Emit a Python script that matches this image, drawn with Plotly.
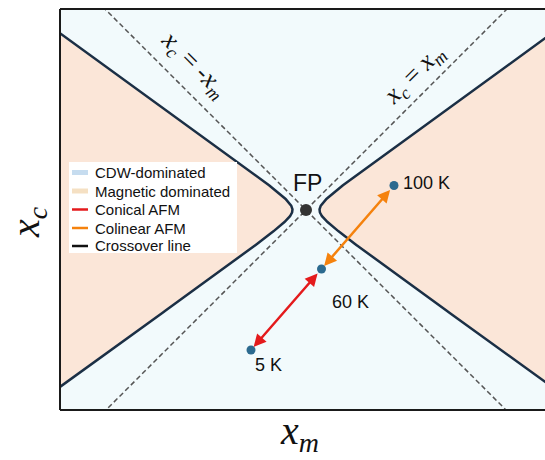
import numpy as np
import plotly.graph_objects as go

# Temperature points along the measured path in the (x_m, x_c) plane
point_labels = ["5 K", "60 K", "100 K"]
point_xm = [-0.55, 0.155, 0.88]
point_xc = [-1.40, -0.59, 0.245]

# Fixed point
fp_label = "FP"
fp_xm = [0.0]
fp_xc = [0.0]

# Crossover curve: x_c = ±slope * sqrt(x_m^2 - gap^2)
crossover_gap = 0.135
crossover_slope = 0.72

# Legend entries
legend_labels = ["CDW-dominated", "Magnetic dominated", "Conical AFM",
                 "Colinear AFM", "Crossover line"]
legend_colors = ["#c6dcef", "#f5e0c3", "#e41a1c", "#f5820d", "#111111"]
legend_widths = [5, 5, 2.5, 2.5, 2.5]

X_RANGE = [-2.46, 2.39]
Y_RANGE = [-2.0, 2.01]

W, H = 545, 460
ML, MR, MT, MB = 60, 0, 9, 50
PW, PH = W - ML - MR, H - MT - MB

CDW_BG = "#f2fafc"
MAG_FILL = "#fbe6d8"
CROSS_COLOR = "#1b2f45"
DASH_COLOR = "#555555"
DOT_COLOR = "#2c6a8f"


def paper(px, py):
    """Pixel position on the page -> paper coordinates of the plot area."""
    return (px - ML) / PW, (H - MB - py) / PH


fig = go.Figure()

# Crossover hyperbola, sampled parametrically so the vertex is smooth
t_max = np.arccosh(2.6 / crossover_gap)
t = np.linspace(0, t_max, 400)
branch_x = crossover_gap * np.cosh(t)
branch_y = crossover_slope * crossover_gap * np.sinh(t)

for side in (1, -1):
    xs = np.concatenate([side * branch_x[::-1], side * branch_x])
    ys = np.concatenate([branch_y[::-1], -branch_y])
    # magnetic-dominated region outside the crossover line
    fig.add_trace(go.Scatter(x=xs, y=ys, fill="toself", fillcolor=MAG_FILL,
                             mode="none", hoverinfo="skip", showlegend=False))
    fig.add_trace(go.Scatter(x=xs, y=ys, mode="lines",
                             line=dict(color=CROSS_COLOR, width=2.5),
                             hoverinfo="skip", showlegend=False))

# Diagonals x_c = ±x_m
diag = np.array([-2.6, 2.6])
for sgn in (1, -1):
    fig.add_trace(go.Scatter(x=diag, y=sgn * diag, mode="lines",
                             line=dict(color=DASH_COLOR, width=1.5, dash="5px,3px"),
                             hoverinfo="skip", showlegend=False))

# Fixed point and temperature points
fig.add_trace(go.Scatter(x=fp_xm, y=fp_xc, mode="markers",
                         marker=dict(color="#333333", size=12),
                         showlegend=False))
fig.add_trace(go.Scatter(x=point_xm, y=point_xc, mode="markers",
                         marker=dict(color=DOT_COLOR, size=9),
                         showlegend=False))

# Double-headed arrows between successive temperature points
arrow_colors = ["#e41a1c", "#f5820d"]
for i, col in enumerate(arrow_colors):
    fig.add_annotation(x=point_xm[i], y=point_xc[i],
                       ax=point_xm[i + 1], ay=point_xc[i + 1],
                       xref="x", yref="y", axref="x", ayref="y",
                       text="", showarrow=True, arrowside="end+start",
                       arrowhead=2, startarrowhead=2,
                       arrowsize=1, startarrowsize=1,
                       arrowwidth=2.5, arrowcolor=col,
                       standoff=4, startstandoff=4)

# Point labels
label_font = dict(family="Liberation Sans, Arial, sans-serif", size=18, color="#111")
offsets = [(17, -15, "center"), (29, -33, "center"), (7, 3, "left")]
for lab, xm, xc, (dx, dy, anchor) in zip(point_labels, point_xm, point_xc, offsets):
    fig.add_annotation(x=xm, y=xc, text=lab, showarrow=False, font=label_font,
                       xanchor=anchor, yanchor="middle", xshift=dx, yshift=dy)
fig.add_annotation(x=fp_xm[0], y=fp_xc[0], text=fp_label, showarrow=False,
                   font=dict(family="Liberation Sans, Arial, sans-serif", size=23, color="#111"),
                   xanchor="center", yanchor="middle", xshift=1, yshift=27)

# Labels along the diagonals
math_font = dict(family="Liberation Serif, Times New Roman, serif", size=26, color="#111")
lx, ly = paper(194, 65)
fig.add_annotation(x=lx, y=ly, xref="paper", yref="paper", showarrow=False,
                   xanchor="center", yanchor="middle",
                   text="<i>x</i><sub><i>c</i></sub> = -<i>x</i><sub><i>m</i></sub>",
                   textangle=45, font=math_font)
rx, ry = paper(414, 75)
fig.add_annotation(x=rx, y=ry, xref="paper", yref="paper", showarrow=False,
                   xanchor="center", yanchor="middle",
                   text="<i>x</i><sub><i>c</i></sub> = <i>x</i><sub><i>m</i></sub>",
                   textangle=-45, font=math_font)

# Axis titles
title_font = dict(family="Liberation Serif, Times New Roman, serif", size=40, color="#111")
tx, ty = paper(299, 433)
fig.add_annotation(x=tx, y=ty, xref="paper", yref="paper", showarrow=False,
                   xanchor="center", yanchor="middle",
                   text="<i>x</i><sub><i>m</i></sub>", font=title_font)
yx, yy = paper(28, 222)
fig.add_annotation(x=yx, y=yy, xref="paper", yref="paper", showarrow=False,
                   xanchor="center", yanchor="middle",
                   text="<i>x</i><sub><i>c</i></sub>", font=title_font, textangle=-90)

# Legend box
shapes = []
bx0, by0 = paper(69, 253)
bx1, by1 = paper(237, 162)
shapes.append(dict(type="rect", xref="paper", yref="paper", x0=bx0, y0=by0,
                   x1=bx1, y1=by1, fillcolor="white", line=dict(width=0)))
row_y = [172.5, 191, 209.5, 228, 246]
for lab, col, wd, py in zip(legend_labels, legend_colors, legend_widths, row_y):
    sx0, sy = paper(72, py)
    sx1, _ = paper(88, py)
    shapes.append(dict(type="line", xref="paper", yref="paper", x0=sx0, x1=sx1,
                       y0=sy, y1=sy, line=dict(color=col, width=wd)))
    txp, _ = paper(93, py)
    fig.add_annotation(x=txp, y=sy, xref="paper", yref="paper", text=lab,
                       showarrow=False, xanchor="left", yanchor="middle",
                       font=dict(family="Liberation Sans, Arial, sans-serif",
                                 size=15, color="#111"))

# Frame on left, top and bottom
frame = dict(color="#1a1a1a", width=2)
shapes += [
    dict(type="line", xref="paper", yref="paper", x0=0, x1=0, y0=0, y1=1, line=frame),
    dict(type="line", xref="paper", yref="paper", x0=0, x1=1, y0=1, y1=1, line=frame),
    dict(type="line", xref="paper", yref="paper", x0=0, x1=1, y0=0, y1=0, line=frame),
]

fig.update_layout(
    width=W, height=H,
    margin=dict(l=ML, r=MR, t=MT, b=MB),
    paper_bgcolor="white", plot_bgcolor=CDW_BG,
    shapes=shapes, showlegend=False,
    xaxis=dict(range=X_RANGE, showgrid=False, zeroline=False, showticklabels=False,
               ticks="", showline=False),
    yaxis=dict(range=Y_RANGE, showgrid=False, zeroline=False, showticklabels=False,
               ticks="", showline=False),
)

fig.write_html("out.html")
